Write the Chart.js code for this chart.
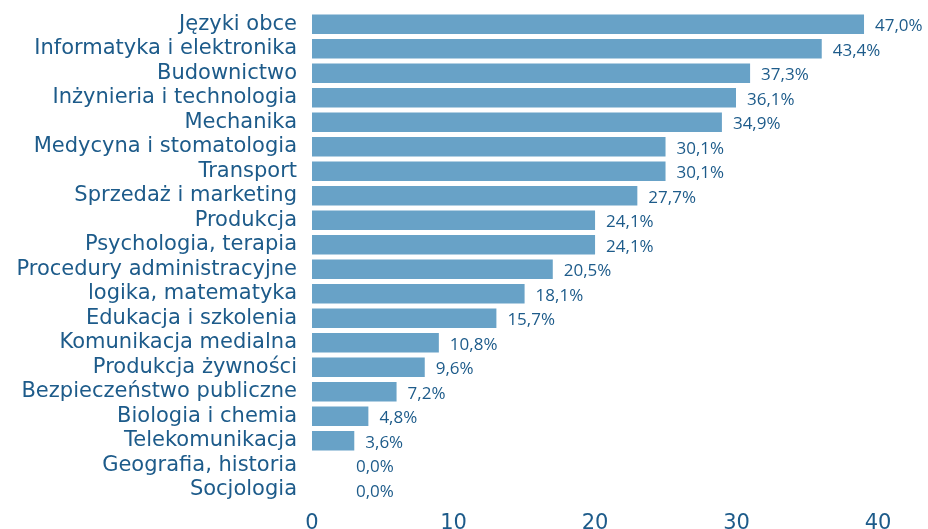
<!DOCTYPE html>
<html><head><meta charset="utf-8">
<script src="https://cdn.jsdelivr.net/npm/chart.js@4/dist/chart.umd.min.js"></script>
<style>html,body{margin:0;padding:0;background:#fff}#w{width:928px;height:529px}</style>
</head><body><div id="w"><canvas id="c"></canvas></div>
<script>
const categories = ["Języki obce","Informatyka i elektronika","Budownictwo","Inżynieria i technologia","Mechanika","Medycyna i stomatologia","Transport","Sprzedaż i marketing","Produkcja","Psychologia, terapia","Procedury administracyjne","logika, matematyka","Edukacja i szkolenia","Komunikacja medialna","Produkcja żywności","Bezpieczeństwo publiczne","Biologia i chemia","Telekomunikacja","Geografia, historia","Socjologia"];
const values = [47.0,43.4,37.3,36.1,34.9,30.1,30.1,27.7,24.1,24.1,20.5,18.1,15.7,10.8,9.6,7.2,4.8,3.6,0.0,0.0];
const axisTicks = [0,10,20,30,40];

const TEXT = '#1d5b8a';
const labelPlugin = {
  id: 'vlabels',
  afterDatasetsDraw(chart) {
    const ctx = chart.ctx;
    const meta = chart.getDatasetMeta(0);
    const zero = chart.scales.x.getPixelForValue(0);
    ctx.save();
    ctx.font = '17px "Open Sans"';
    ctx.fillStyle = TEXT;
    ctx.textAlign = 'left';
    ctx.textBaseline = 'middle';
    meta.data.forEach((bar, i) => {
      const txt = values[i].toFixed(1).replace('.', ',') + '%';
      const x = Math.max(bar.x + 11, zero + 44);
      ctx.fillText(txt, x, bar.y + 2);
    });
    ctx.restore();
  }
};

new Chart(document.getElementById('c'), {
  type: 'bar',
  data: {
    labels: categories,
    datasets: [{
      data: values,
      backgroundColor: '#68a2c7',
      xAxisID: 'x',
      barPercentage: 0.8,
      categoryPercentage: 1.0
    }]
  },
  options: {
    indexAxis: 'y',
    responsive: true,
    maintainAspectRatio: false,
    animation: false,
    layout: { padding: { left: 0, right: 50, top: 12, bottom: 0 } },
    plugins: { legend: { display: false }, tooltip: { enabled: false } },
    scales: {
      x: { display: false, min: 0, max: 48.19 },
      x2: {
        type: 'linear', position: 'bottom', min: 0, max: 40,
        grid: { display: false, drawTicks: false },
        border: { display: false },
        afterBuildTicks(s) { s.ticks = axisTicks.map(v => ({ value: v })); },
        ticks: { color: TEXT, font: { family: 'DejaVu Sans', size: 21 }, padding: 9, maxRotation: 0 },
        afterFit(s) { s.height = 27; s.paddingTop = 0; s.paddingBottom = 0; }
      },
      y: {
        grid: { display: false, drawTicks: false },
        border: { display: false },
        ticks: { color: TEXT, font: { family: 'DejaVu Sans', size: 21 }, padding: 15, autoSkip: false },
        afterFit(s) { s.width = 312; s.paddingTop = 0; s.paddingBottom = 0; }
      }
    }
  },
  plugins: [labelPlugin]
});
</script></body></html>
